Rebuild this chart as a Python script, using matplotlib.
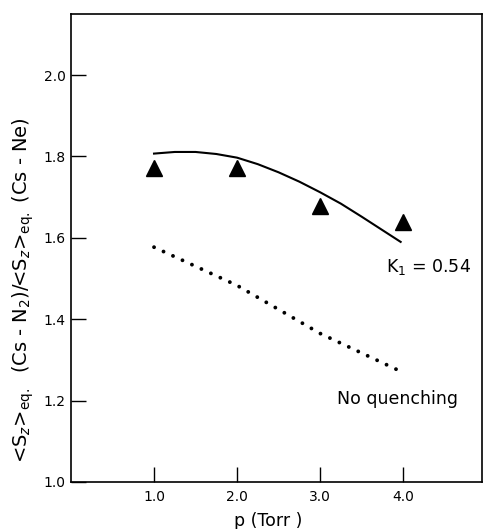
import matplotlib
matplotlib.use("Agg")
import matplotlib.pyplot as plt

plt.rcParams['font.family'] = ['DejaVu Sans']
plt.rcParams['mathtext.fontset'] = 'dejavusans'
plt.rcParams['lines.scale_dashes'] = False

# Data
p_meas = [1.0, 2.0, 3.0, 4.0]
ratio_meas = [1.772, 1.772, 1.677, 1.638]

p_fit = [1.0, 1.25, 1.5, 1.75, 2.0, 2.25, 2.5, 2.75, 3.0, 3.25, 3.5, 3.75, 3.97]
ratio_fit = [1.807, 1.811, 1.811, 1.806, 1.797, 1.781, 1.761, 1.738, 1.712,
             1.684, 1.652, 1.619, 1.590]

p_noq = [1.0, 2.0, 3.0, 4.0]
ratio_noq = [1.577, 1.483, 1.365, 1.269]

x_ticks = [1.0, 2.0, 3.0, 4.0]
x_ticklabels = ["1.0", "2.0", "3.0", "4.0"]
y_ticks = [1.0, 1.2, 1.4, 1.6, 1.8, 2.0]
y_ticklabels = ["1.0", "1.2", "1.4", "1.6", "1.8", "2.0"]

fig = plt.figure(figsize=(4.84, 5.29), dpi=100)
ax = fig.add_axes([0.1467, 0.0889, 0.8492, 0.8846])

ax.plot(p_fit, ratio_fit, color='black', lw=1.5)
ax.plot(p_noq, ratio_noq, color='black', lw=2.8, dashes=(0.01, 7.5),
        dash_capstyle='round')
ax.plot(p_meas, ratio_meas, linestyle='none', marker='^', color='black',
        markersize=11)

ax.set_xlim(0, 4.95)
ax.set_ylim(1.0, 2.15)
ax.set_xticks(x_ticks)
ax.set_xticklabels(x_ticklabels)
ax.set_yticks(y_ticks)
ax.set_yticklabels(y_ticklabels)
ax.tick_params(direction='in', length=11, width=1.0, labelsize=10, pad=4)
ax.tick_params(axis='x', pad=6)
for s in ax.spines.values():
    s.set_linewidth(1.2)

ax.text(3.79, 1.528, r"K$_1$ = 0.54", fontsize=12.5, va='center', ha='left')
ax.text(3.2, 1.204, "No quenching", fontsize=12.5, va='center', ha='left')

ax.set_xlabel("p (Torr )", fontsize=12.5)
ax.xaxis.set_label_coords(0.48, -0.065)
ax.set_ylabel(r"<S$_z$>$_{\rm eq.}$  (Cs - N$_2$)/<S$_z$>$_{\rm eq.}$ (Cs - Ne)",
              fontsize=14)
ax.yaxis.set_label_coords(-0.085, 0.41)

fig.savefig("out.png", dpi=100)
